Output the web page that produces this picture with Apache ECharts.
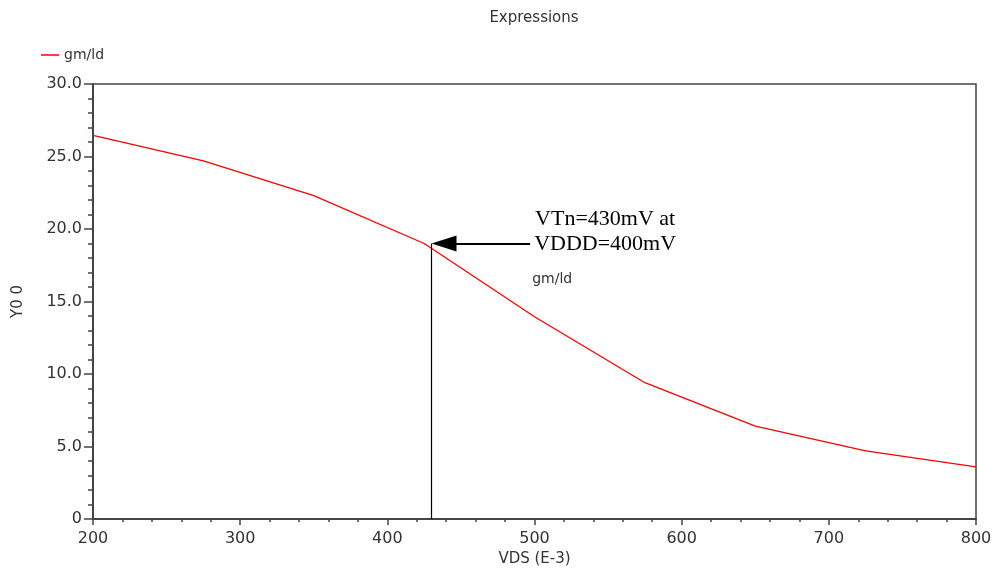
<!DOCTYPE html>
<html>
<head>
<meta charset="utf-8">
<title>gm/Id vs VDS</title>
<script src="https://cdn.jsdelivr.net/npm/echarts@6/dist/echarts.min.js"></script>
<style>
  html, body { margin: 0; padding: 0; background: #fff; }
  #chart { width: 1000px; height: 569px; }
</style>
</head>
<body>
<div id="chart"></div>
<script>
// VDS sweep (E-3) and gm/Id
var vds = [200, 275, 350, 425, 500, 575, 650, 725, 800];
var gmId = [26.45, 24.7, 22.3, 19.0, 13.95, 9.4, 6.4, 4.7, 3.6];
var xTicks = [200, 300, 400, 500, 600, 700, 800];
var yTicks = [0, 5, 10, 15, 20, 25, 30];

// annotation anchor (where VTn meets the curve)
var markX = 430;
var markY = 19.0;
var arrowFromX = 497;

var chart = echarts.init(document.getElementById('chart'));
var font = 'DejaVu Sans';
var axisColor = '#444';

var option = {
  animation: false,
  backgroundColor: '#fff',
  title: {
    text: 'Expressions',
    left: 529,
    top: 6,
    textAlign: 'center',
    textStyle: { fontFamily: font, fontSize: 15, fontWeight: 'normal', color: '#333' }
  },
  legend: {
    data: ['gm/ld'],
    left: 36,
    top: 43,
    icon: 'rect',
    itemWidth: 18,
    itemHeight: 1.5,
    itemGap: 10,
    textStyle: { fontFamily: font, fontSize: 14, color: '#333' }
  },
  grid: {
    show: true,
    left: 93,
    right: 24,
    top: 84,
    bottom: 50,
    outerBoundsMode: 'none',
    containLabel: false,
    borderColor: axisColor,
    borderWidth: 1.5,
    backgroundColor: '#fff'
  },
  xAxis: {
    type: 'value',
    min: xTicks[0],
    max: xTicks[xTicks.length - 1],
    interval: 100,
    name: 'VDS (E-3)',
    nameLocation: 'middle',
    nameGap: 26,
    nameTextStyle: { fontFamily: font, fontSize: 15, color: '#333' },
    axisLine: { show: true, lineStyle: { color: axisColor, width: 2 } },
    axisTick: { show: true, length: 6, lineStyle: { color: axisColor, width: 1.5 } },
    minorTick: { show: true, splitNumber: 5, length: 3, lineStyle: { color: axisColor, width: 1.5 } },
    splitLine: { show: false },
    axisLabel: {
      margin: 12,
      fontFamily: font,
      fontSize: 16,
      color: '#333',
      formatter: function (v) { return xTicks.indexOf(v) >= 0 ? String(v) : ''; }
    }
  },
  yAxis: {
    type: 'value',
    min: yTicks[0],
    max: yTicks[yTicks.length - 1],
    interval: 5,
    name: 'Y0 0',
    nameLocation: 'middle',
    nameRotate: 90,
    nameGap: 67,
    nameTextStyle: { fontFamily: font, fontSize: 15, color: '#333' },
    axisLine: { show: true, lineStyle: { color: axisColor, width: 2 } },
    axisTick: { show: true, length: 9, lineStyle: { color: axisColor, width: 1.5 } },
    minorTick: { show: true, splitNumber: 5, length: 5, lineStyle: { color: axisColor, width: 1.5 } },
    splitLine: { show: false },
    axisLabel: {
      margin: 11,
      fontFamily: font,
      fontSize: 16,
      color: '#333',
      formatter: function (v) { return v === 0 ? '0' : v.toFixed(1); }
    }
  },
  series: [
    {
      name: 'gm/ld',
      type: 'line',
      data: vds.map(function (x, i) { return [x, gmId[i]]; }),
      symbol: 'none',
      smooth: false,
      lineStyle: { color: '#ff0000', width: 1.3 },
      itemStyle: { color: '#ff0000' },
      markLine: {
        silent: true,
        symbol: ['none', 'none'],
        label: { show: false },
        data: [
          [
            { coord: [markX, 0], lineStyle: { color: '#000', width: 1.2, type: 'solid' } },
            { coord: [markX, markY] }
          ],
          [
            { coord: [arrowFromX, markY], lineStyle: { color: '#000', width: 2, type: 'solid' } },
            { coord: [markX + 12, markY] }
          ]
        ]
      },
      markPoint: {
        silent: true,
        data: [
          {
            coord: [markX, markY],
            symbol: 'path://M0,5 L16,0 L16,10 Z',
            symbolSize: [25, 16],
            symbolOffset: [12.5, 0],
            itemStyle: { color: '#000' },
            label: { show: false }
          },
          {
            coord: [548, 19.8],
            symbol: 'circle',
            symbolSize: 0,
            label: {
              show: true,
              position: 'inside',
              align: 'center',
              verticalAlign: 'middle',
              formatter: 'VTn=430mV at\nVDDD=400mV',
              fontFamily: 'Liberation Serif',
              fontSize: 22,
              lineHeight: 25,
              color: '#000'
            }
          },
          {
            coord: [512, 16.5],
            symbol: 'circle',
            symbolSize: 0,
            label: {
              show: true,
              position: 'inside',
              align: 'center',
              verticalAlign: 'middle',
              formatter: 'gm/ld',
              fontFamily: font,
              fontSize: 14,
              color: '#333'
            }
          }
        ]
      }
    }
  ]
};

chart.setOption(option);
window.addEventListener('resize', function () { chart.resize(); });
</script>
</body>
</html>
